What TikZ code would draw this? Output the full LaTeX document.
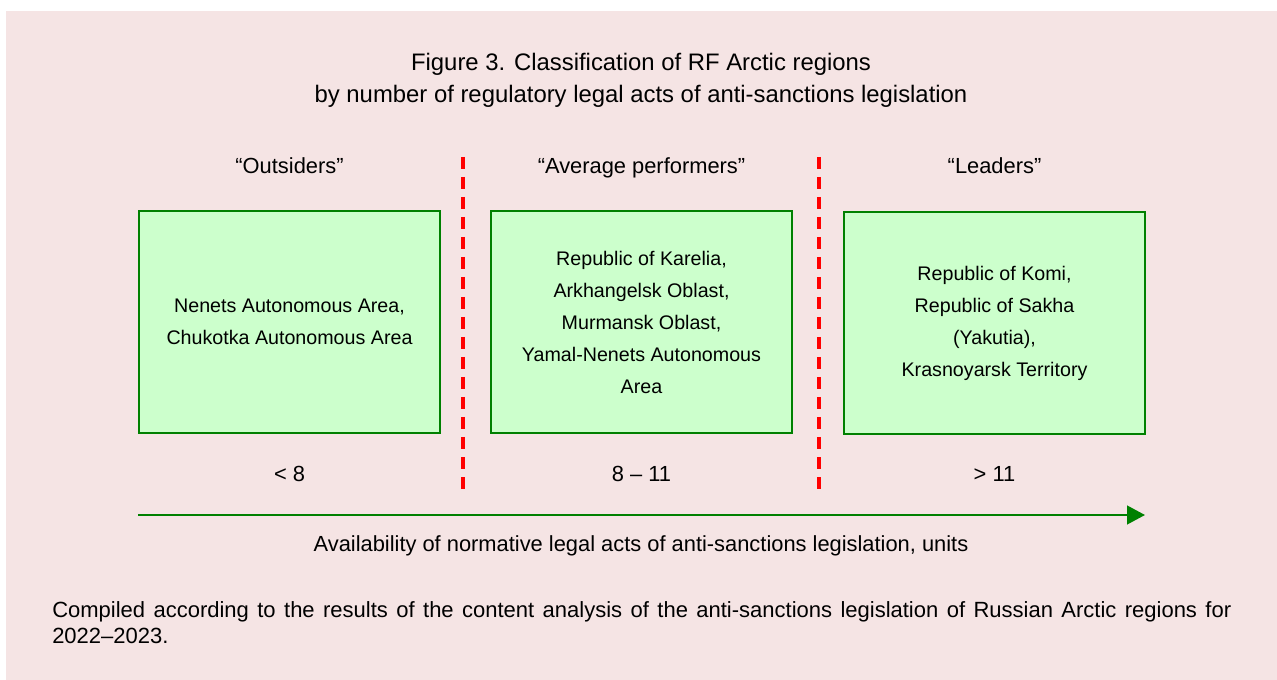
\documentclass[tikz,border=0pt]{standalone}
\usepackage{fontspec}
\setmainfont{Liberation Sans}
\usetikzlibrary{arrows.meta}
\definecolor{bgpink}{RGB}{245,228,228}
\definecolor{boxfill}{RGB}{204,255,204}
\definecolor{boxgreen}{RGB}{0,128,0}
\definecolor{sepred}{RGB}{255,0,0}
\newcommand{\titlefont}{\fontsize{17.9pt}{24pt}\selectfont}
\newcommand{\labelfont}{\fontsize{16.4pt}{24pt}\selectfont}
\newcommand{\boxfont}{\fontsize{14.75pt}{24pt}\selectfont}
\newcommand{\notefont}{\fontsize{16.5pt}{19.5pt}\selectfont}
\tikzset{
  region/.style={draw=boxgreen, line width=1.5pt, fill=boxfill, minimum width=225.75pt, minimum height=166.5pt, inner sep=0pt, align=center, font=\boxfont},
  grouplabel/.style={font=\labelfont, inner sep=0pt, anchor=base},
  rangelabel/.style={font=\labelfont, inner sep=0pt, anchor=base},
  separator/.style={draw=sepred, line width=2.5pt, dash pattern=on 9pt off 6pt},
  axis/.style={draw=boxgreen, line width=1.75pt, -{Triangle[length=13.5pt,width=14pt]}}
}
\begin{document}
\begin{tikzpicture}[x=0.75pt,y=-0.75pt]
\useasboundingbox (0,0) rectangle (1277,680);
\fill[bgpink] (6,11) rectangle (1277,680);
\node[align=center, font=\titlefont, inner sep=0pt] (title) at (641,80) {Figure 3. Classification of RF Arctic regions\\by number of regulatory legal acts of anti-sanctions legislation};
\node[grouplabel] (l1) at (289.5,174) {“Outsiders”};
\node[grouplabel] (l2) at (641.5,174) {“Average performers”};
\node[grouplabel] (l3) at (994.5,174) {“Leaders”};
\node[region] (b1) at (289.5,322) {Nenets Autonomous Area,\\Chukotka Autonomous Area};
\node[region] (b2) at (641.5,322) {Republic of Karelia,\\Arkhangelsk Oblast,\\Murmansk Oblast,\\Yamal-Nenets Autonomous\\Area};
\node[region] (b3) at (994.5,323) {Republic of Komi,\\Republic of Sakha\\(Yakutia),\\Krasnoyarsk Territory};
\node[rangelabel] (r1) at (289.5,481) {< 8};
\node[rangelabel] (r2) at (641.5,481) {8 – 11};
\node[rangelabel] (r3) at (994.5,481) {> 11};
\coordinate (s1a) at (463,157);
\coordinate (s1b) at (463,490);
\coordinate (s2a) at (819,157);
\coordinate (s2b) at (819,490);
\draw[separator] (s1a) -- (s1b);
\draw[separator] (s2a) -- (s2b);
\coordinate (axstart) at (138,515);
\coordinate (axend) at (1145,515);
\draw[axis] (axstart) -- (axend);
\node[font=\labelfont, inner sep=0pt, anchor=base] (axlabel) at (641,551) {Availability of normative legal acts of anti-sanctions legislation, units};
\node[font=\notefont, text width=884.25pt, align=justify, inner sep=0pt, anchor=north west] (note) at (52,601) {Compiled according to the results of the content analysis of the anti-sanctions legislation of Russian Arctic regions for\linebreak 2022–2023.};
\end{tikzpicture}
\end{document}
